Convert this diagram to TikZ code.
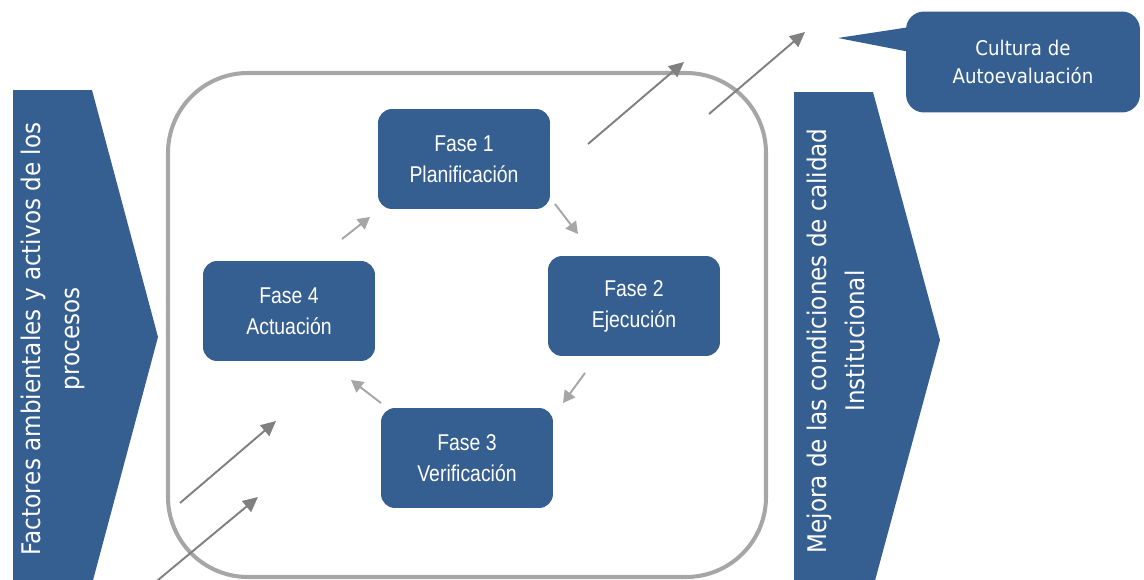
\documentclass[tikz,border=0pt]{standalone}
\usepackage{fontspec}
\usetikzlibrary{arrows.meta}
\newfontfamily\fasefont[FakeStretch=0.85]{Liberation Sans}
\newfontfamily\sidefont[FakeStretch=0.9]{DejaVu Sans}
\definecolor{faseblue}{RGB}{54,95,145}
\definecolor{ltgray}{RGB}{166,166,166}
\definecolor{dkgray}{RGB}{128,128,128}

\begin{document}
\begin{tikzpicture}[x=0.02cm,y=-0.02cm,
fase/.style ={rectangle, fill=faseblue, text=white, align=center, rounded corners=0.28cm, minimum width=3.44cm, minimum height=2cm, font={\fasefont\fontsize{13}{17.6}\selectfont}},
side/.style={text=white, align=center, rotate=90, font={\sidefont\fontsize{14.6}{22}\selectfont}},
callout/.style={rectangle, fill=faseblue, text=white, align=center, rounded corners=0.36cm, minimum width=4.68cm, minimum height=2.02cm, font={\sidefont\fontsize{11.5}{16}\selectfont}},
ciclo/.style={draw=ltgray, line width=1.1pt, -{Triangle[length=0.24cm,width=0.26cm]}},
flujo/.style={draw=dkgray, line width=1.1pt, -{Triangle[length=0.3cm,width=0.28cm]}},
marco/.style={draw=ltgray, line width=2.3pt, rounded corners=1.6cm}]

\useasboundingbox (0,0) rectangle (1144,579);
\clip (0,0) rectangle (1144,579);

% side arrows and frame
\fill[faseblue] (13,90) -- (92,90) -- (158,337) -- (92,584) -- (13,584) -- cycle;
\fill[faseblue] (794,92) -- (873,92) -- (940,340) -- (873,588) -- (794,588) -- cycle;
\draw[marco] (168,73) rectangle (766,577);
\fill[faseblue] (910,27) -- (838,38) -- (910,52) -- cycle;

\draw (53,339) node[side] (Fact) {Factores ambientales y activos de los\\procesos};
\draw (836,341) node[side] (Mej) {Mejora de las condiciones de calidad\\Institucional};
\draw (1023,62) node[callout] (Cult) {Cultura de\\Autoevaluación};

\draw (464,159) node[fase] (F1) {Fase 1\\Planificación};
\draw (634,306) node[fase] (F2) {Fase 2\\Ejecución};
\draw (467,458) node[fase] (F3) {Fase 3\\Verificación};
\draw (289,311) node[fase] (F4) {Fase 4\\Actuación};

\coordinate (a41) at (342,239); \coordinate (b41) at (370,217);
\coordinate (a12) at (555,204); \coordinate (b12) at (578,234);
\coordinate (a23) at (585,373); \coordinate (b23) at (563,403);
\coordinate (a34) at (381,403); \coordinate (b34) at (351,380);
\coordinate (in1) at (152,585); \coordinate (in1e) at (258,497);
\coordinate (in2) at (180,503); \coordinate (in2e) at (276,421);
\coordinate (out1) at (588,144); \coordinate (out1e) at (684,62);
\coordinate (out2) at (709,114); \coordinate (out2e) at (805,32);

\draw[ciclo] (a41)--(b41);
\draw[ciclo] (a12)--(b12);
\draw[ciclo] (a23)--(b23);
\draw[ciclo] (a34)--(b34);
\draw[flujo] (in1)--(in1e);
\draw[flujo] (in2)--(in2e);
\draw[flujo] (out1)--(out1e);
\draw[flujo] (out2)--(out2e);

\end{tikzpicture}
\end{document}
